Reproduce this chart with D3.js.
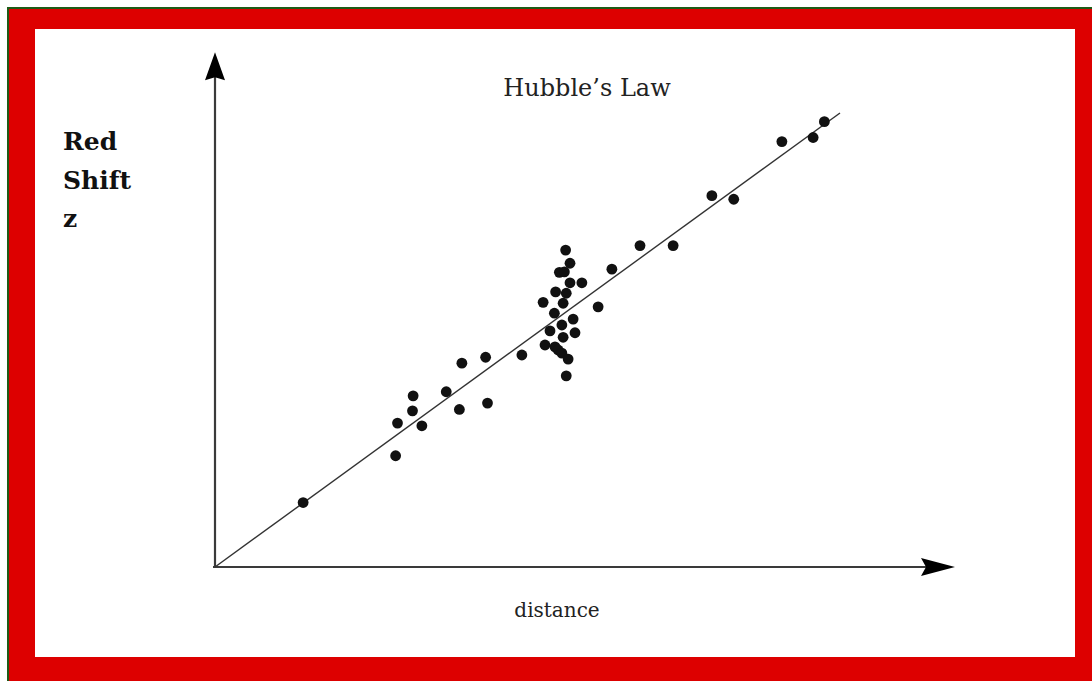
<!DOCTYPE html>
<html>
<head>
<meta charset="utf-8">
<script src="https://cdn.jsdelivr.net/npm/d3@7"></script>
<style>
  html, body { margin: 0; padding: 0; background: #ffffff; }
  svg { display: block; }
</style>
</head>
<body>
<svg id="chart" width="1092" height="681"></svg>
<script>
// ---- data (arbitrary units) ----
const titleText = "Hubble\u2019s Law";
const yLabelLines = ["Red", "Shift", "z"];
const xLabelText = "distance";

const distance = [14.1, 28.9, 29.2, 31.6, 31.7, 33.1, 37.0, 39.1, 39.5, 43.3, 43.6, 49.1,
  52.8, 54.4, 54.9, 55.5, 56.5, 56.2, 55.7, 57.6, 53.6, 55.5, 57.3, 54.3, 61.3, 55.7,
  52.5, 56.2, 54.5, 56.8, 58.7, 55.1, 55.9, 56.8, 56.1, 63.5, 68.0, 73.3, 79.5, 83.0,
  90.7, 95.7, 97.5];
const redshift = [14.2, 24.5, 31.7, 34.4, 37.7, 31.1, 38.6, 34.7, 44.9, 46.2, 36.1, 46.7,
  48.9, 48.5, 47.8, 47.1, 45.8, 42.1, 50.6, 51.6, 52.0, 53.3, 54.6, 55.9, 57.3, 58.1,
  58.3, 60.3, 60.6, 62.6, 62.6, 64.9, 65.0, 66.9, 69.8, 65.6, 70.8, 70.8, 81.8, 81.0,
  93.7, 94.6, 98.1];
const fitLine = [[0, 0], [100, 100]];   // best-fit line z = H * d
const axisMaxX = 118.4;
const axisMaxY = 113.4;

// ---- drawing ----
const svg = d3.select("#chart");

// frame
svg.append("rect").attr("x", 8).attr("y", 8).attr("width", 1100).attr("height", 700)
  .attr("fill", "#dd0000").attr("stroke", "#1f5a16").attr("stroke-width", 2);
svg.append("rect").attr("x", 35).attr("y", 29).attr("width", 1040).attr("height", 628)
  .attr("fill", "#ffffff");

const x = d3.scaleLinear().domain([0, 100]).range([215, 840]);
const y = d3.scaleLinear().domain([0, 100]).range([567, 113]);

// axes
const axisColor = "#3a3a3a";
svg.append("line").attr("x1", x(0)).attr("y1", y(0)).attr("x2", x(0)).attr("y2", y(axisMaxY) + 20)
  .attr("stroke", axisColor).attr("stroke-width", 2.2);
svg.append("line").attr("x1", x(0) - 2).attr("y1", y(0)).attr("x2", x(axisMaxX) - 25).attr("y2", y(0))
  .attr("stroke", axisColor).attr("stroke-width", 2.2);

// arrowheads
const yt = [x(0), y(axisMaxY)];
svg.append("path")
  .attr("d", `M${yt[0]},${yt[1]} L${yt[0] + 10},${yt[1] + 28} L${yt[0]},${yt[1] + 25} L${yt[0] - 10},${yt[1] + 28} Z`)
  .attr("fill", "#000");
const xt = [x(axisMaxX), y(0)];
svg.append("path")
  .attr("d", `M${xt[0]},${xt[1]} L${xt[0] - 34},${xt[1] + 9} L${xt[0] - 29},${xt[1]} L${xt[0] - 34},${xt[1] - 9} Z`)
  .attr("fill", "#000");

// fit line
svg.append("path")
  .datum(fitLine)
  .attr("d", d3.line().x(d => x(d[0])).y(d => y(d[1])))
  .attr("stroke", "#333").attr("stroke-width", 1.4).attr("fill", "none");

// points
svg.append("g").selectAll("circle")
  .data(distance.map((d, i) => ({ d, z: redshift[i] })))
  .join("circle")
  .attr("cx", p => x(p.d))
  .attr("cy", p => y(p.z))
  .attr("r", 5.4)
  .attr("fill", "#111");

// title
svg.append("text").attr("x", 587).attr("y", 96).attr("text-anchor", "middle")
  .attr("font-family", "DejaVu Serif").attr("font-size", 24).attr("fill", "#222")
  .text(titleText);

// y label
svg.append("g").selectAll("text").data(yLabelLines).join("text")
  .attr("x", 63).attr("y", (d, i) => 150 + i * 38.5)
  .attr("font-family", "DejaVu Serif").attr("font-weight", "bold").attr("font-size", 25)
  .attr("fill", "#111")
  .text(d => d);

// x label
svg.append("text").attr("x", 557).attr("y", 617).attr("text-anchor", "middle")
  .attr("font-family", "DejaVu Serif").attr("font-size", 20).attr("fill", "#222")
  .text(xLabelText);
</script>
</body>
</html>
